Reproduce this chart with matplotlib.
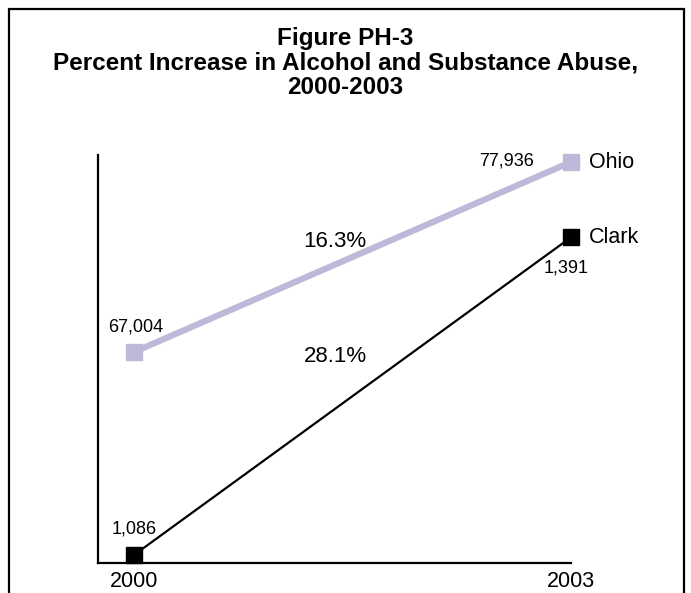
import matplotlib
matplotlib.use('Agg')
import matplotlib.pyplot as plt
from matplotlib.patches import Rectangle

plt.rcParams['font.family'] = ['Liberation Sans', 'DejaVu Sans']

# Data
years = [2000, 2003]
ohio = [67004, 77936]
clark = [1086, 1391]
title_lines = ['Figure PH-3',
               'Percent Increase in Alcohol and Substance Abuse,',
               '2000-2003']
ohio_color = '#bdb9d9'

W, H = 691, 593
fig = plt.figure(figsize=(W / 100, H / 100), dpi=100)

# Outer frame (bottom edge runs off the picture)
fig.patches.append(Rectangle((9 / W, -0.05), 675 / W, 1.05 - 9 / H,
                             transform=fig.transFigure, fill=False,
                             edgecolor='black', linewidth=1.6, clip_on=False))

# Title, one line at a time
for i, line in enumerate(title_lines):
    fig.text(0.5, 1 - (45 + 24.5 * i) / H, line, ha='center', va='baseline',
             fontsize=17.5, fontweight='bold')

ax = fig.add_axes([98 / W, 30 / H, 473 / W, 408 / H])
ax2 = ax.twinx()

# Clark on the primary axis, Ohio on a hidden secondary axis
ax.plot(years, clark, color='black', linewidth=1.6, marker='s', markersize=11.5,
        clip_on=False, zorder=5)
ax2.plot(years, ohio, color=ohio_color, linewidth=4.5, marker='s', markersize=11.5,
         clip_on=False, zorder=5)

ax.set_xlim(2000 - 36 / 145.7, 2003)
ax.set_ylim(1078.3, 1470)
ax2.set_ylim(54864, 78339)

for a in (ax, ax2):
    for s in ('top', 'right'):
        a.spines[s].set_visible(False)
    a.set_yticks([])
ax2.spines['left'].set_visible(False)
ax2.spines['bottom'].set_visible(False)
ax.spines['left'].set_linewidth(1.6)
ax.spines['bottom'].set_linewidth(1.6)

ax.set_xticks(years)
ax.set_xticklabels([str(y) for y in years], fontsize=15.5)
ax.tick_params(axis='x', which='major', length=0, pad=6)
ax.set_xticks([2003], minor=True)
ax.tick_params(axis='x', which='minor', direction='in', length=6, width=1.6)

# Value labels
lab = 13
ax2.annotate(f'{ohio[0]:,}', (years[0], ohio[0]), xytext=(2, 25),
             textcoords='offset pixels', ha='center', va='center', fontsize=lab)
ax2.annotate(f'{ohio[1]:,}', (years[1], ohio[1]), xytext=(-37, 1),
             textcoords='offset pixels', ha='right', va='center', fontsize=lab)
ax.annotate(f'{clark[0]:,}', (years[0], clark[0]), xytext=(0, 26),
            textcoords='offset pixels', ha='center', va='center', fontsize=lab)
ax.annotate(f'{clark[1]:,}', (years[1], clark[1]), xytext=(-5, -31),
            textcoords='offset pixels', ha='center', va='center', fontsize=lab)

# Series names
ax2.annotate('Ohio', (years[1], ohio[1]), xytext=(18, 0),
             textcoords='offset pixels', ha='left', va='center', fontsize=15.5)
ax.annotate('Clark', (years[1], clark[1]), xytext=(18, 0),
            textcoords='offset pixels', ha='left', va='center', fontsize=15.5)

# Percent increase labels
ohio_pct = (ohio[1] - ohio[0]) / ohio[0] * 100
clark_pct = (clark[1] - clark[0]) / clark[0] * 100
ax.text(0.501, 0.787, f'{ohio_pct:.1f}%', transform=ax.transAxes,
        ha='center', va='center', fontsize=16)
ax.text(0.501, 0.507, f'{clark_pct:.1f}%', transform=ax.transAxes,
        ha='center', va='center', fontsize=16)

fig.savefig('out.png', dpi=100)
